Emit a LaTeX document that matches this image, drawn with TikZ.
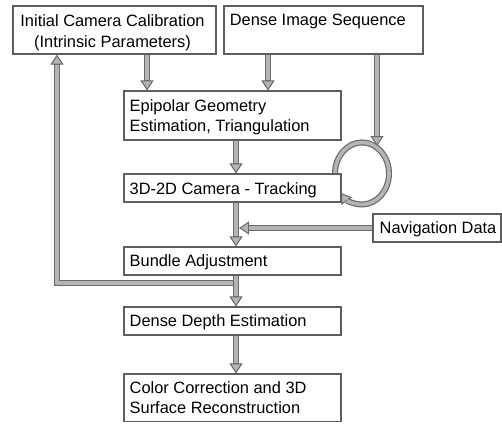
\documentclass[tikz,border=0pt]{standalone}
\usepackage{fontspec}
\setmainfont{Liberation Sans}
\usetikzlibrary{arrows.meta,backgrounds}
\definecolor{bordc}{HTML}{5E5E5E}
\definecolor{shaftdark}{HTML}{6A6A6A}
\definecolor{shaftlight}{HTML}{B4B4B4}
\tikzset{
  box/.style={draw=bordc, line width=1.1pt, fill=white, inner sep=0pt},
  txt/.style={inner sep=0pt, font=\fontsize{16.4}{20}\selectfont, text=black},
  flowout/.style={line width=6pt, draw=shaftdark, line join=miter,
    -{Triangle[width=13pt,length=10pt,line width=1pt,fill=shaftlight]}},
  flowin/.style={line width=3.6pt, draw=shaftlight, line join=miter, shorten >=10pt}
}
\newcommand\dblarrow[1]{\draw[flowout] #1; \draw[flowin] #1;}
\begin{document}
\begin{tikzpicture}[x=1pt,y=1pt]
\useasboundingbox (0,0) rectangle (502,424);
\node[box, minimum width=203pt, minimum height=48pt] (calib) at (114.5,394) {};
\node[box, minimum width=199pt, minimum height=48pt] (dense) at (323.5,394) {};
\node[box, minimum width=217pt, minimum height=49pt] (epi) at (232.5,308.5) {};
\node[box, minimum width=217pt, minimum height=28pt] (track) at (232.5,236) {};
\node[box, minimum width=128pt, minimum height=28pt] (nav) at (437,196) {};
\node[box, minimum width=217pt, minimum height=28pt] (bundle) at (232.5,163) {};
\node[box, minimum width=217pt, minimum height=28pt] (depth) at (232.5,103) {};
\node[box, minimum width=217pt, minimum height=47.5pt] (color) at (232.5,26.25) {};

\node[txt, anchor=base] (calibA) at (112.5,397.5) {Initial Camera Calibration};
\node[txt, anchor=base] (calibB) at (112.5,376) {(Intrinsic Parameters)};
\node[txt, anchor=base west] (denseA) at (229.6,398.3) {Dense Image Sequence};
\node[txt, anchor=base west] (epiA) at (129.5,312.5) {Epipolar Geometry};
\node[txt, anchor=base west] (epiB) at (129.5,292.3) {Estimation, Triangulation};
\node[txt, anchor=base west] (trackA) at (129.5,229.7) {3D-2D Camera - Tracking};
\node[txt, anchor=base west] (navA) at (379.5,190.7) {Navigation Data};
\node[txt, anchor=base west] (bundleA) at (129.5,157.3) {Bundle Adjustment};
\node[txt, anchor=base west] (depthA) at (129.5,97.3) {Dense Depth Estimation};
\node[txt, anchor=base west] (colorA) at (129.5,30.7) {Color Correction and 3D};
\node[txt, anchor=base west] (colorB) at (129.5,10.7) {Surface Reconstruction};

\begin{scope}[on background layer]
\coordinate (j) at (236,141);
\coordinate (looptop) at (377,278);
\dblarrow{(j) -- (j -| 57,0) -- (57,0 |- calib.south)}
\dblarrow{(147,0 |- calib.south) -- (147,0 |- epi.north)}
\dblarrow{(268,0 |- dense.south) -- (268,0 |- epi.north)}
\dblarrow{(377,0 |- dense.south) -- (looptop)}
\dblarrow{(236,0 |- epi.south) -- (236,0 |- track.north)}
\dblarrow{(236,0 |- track.south) -- (236,0 |- bundle.north)}
\dblarrow{(nav.west) -- (239,0 |- nav.west)}
\dblarrow{(335,0 |- track.north) arc[start angle=180, end angle=-141, x radius=27, y radius=31]}
\dblarrow{(236,0 |- bundle.south) -- (236,0 |- depth.north)}
\dblarrow{(236,0 |- depth.south) -- (236,0 |- color.north)}
\end{scope}
\end{tikzpicture}
\end{document}
